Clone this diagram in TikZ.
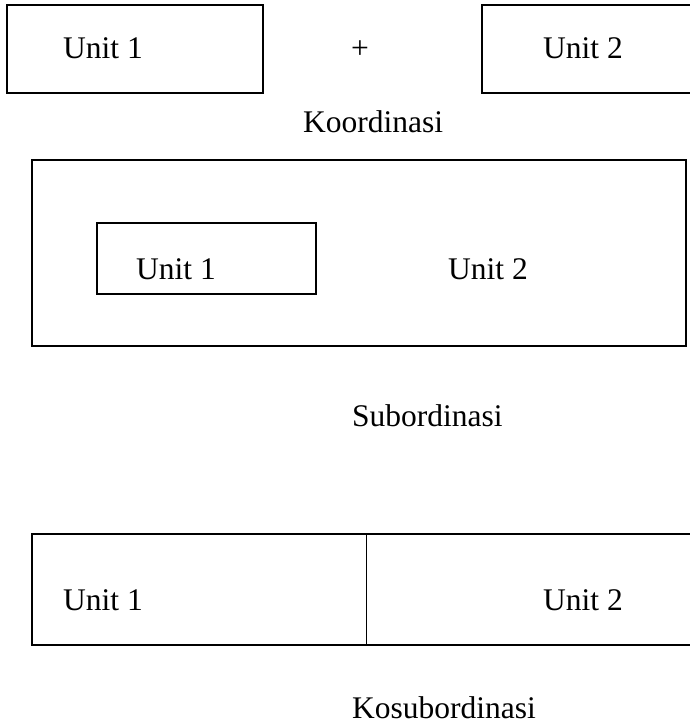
\documentclass[tikz,border=0pt]{standalone}
\usepackage{fontspec}
\setmainfont{Liberation Serif}
\usepackage{tikz}
\usetikzlibrary{positioning}
\tikzstyle{unitbox} = [draw, line width=2pt, rectangle, inner sep=0pt]
\tikzstyle{txt} = [inner sep=0pt, anchor=base west, font=\fontsize{31.5}{36}\selectfont]
\tikzstyle{divline} = [draw, line width=1pt]

\begin{document}
\begin{tikzpicture}[x=1pt, y=-1pt]
\useasboundingbox (0,0) rectangle (690,725);

% koordinasi =============================
\node[unitbox, minimum width=256pt, minimum height=88pt] (kooA) at (135,49) {};
\node[unitbox, minimum width=209pt, minimum height=88pt] (kooB) at (586.5,49) {};
\node[txt] (kooAtxt) at (63,59) {Unit 1};
\node[txt] (kooBtxt) at (543,59) {Unit 2};
\node[txt, anchor=base] (plus) at (360,59) {+};
\node[txt] (koo) at (303,132) {Koordinasi};

% subordinasi =============================
\node[unitbox, minimum width=654pt, minimum height=186pt] (subA) at (359,253) {};
\node[unitbox, minimum width=219pt, minimum height=71pt] (subB) at (206.5,258.5) {};
\node[txt] (subBtxt) at (136,279) {Unit 1};
\node[txt] (subAtxt) at (448,279) {Unit 2};
\node[txt] (sub) at (352,426) {Subordinasi};

% kosubordinasi =============================
\node[unitbox, minimum width=659pt, minimum height=111pt] (kos) at (361.5,589.5) {};
\coordinate (divtop) at (366,534);
\coordinate (divbot) at (366,645);
\path[divline] (divtop) -- (divbot);
\node[txt] (kosAtxt) at (63,610) {Unit 1};
\node[txt] (kosBtxt) at (543,610) {Unit 2};
\node[txt] (kosub) at (352,718) {Kosubordinasi};

\end{tikzpicture}
\end{document}
